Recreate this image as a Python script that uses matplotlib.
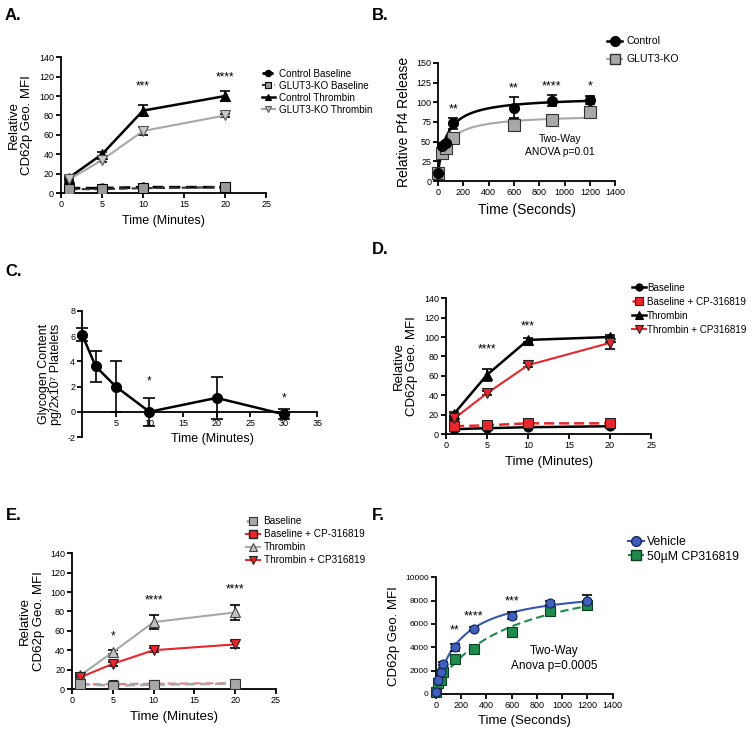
import matplotlib
matplotlib.use("Agg")
import matplotlib.pyplot as plt
from matplotlib.lines import Line2D
import numpy as np

plt.rcParams['font.family'] = ['Liberation Sans', 'DejaVu Sans']
plt.rcParams['axes.unicode_minus'] = False

RED = '#e8262b'
GRAY = '#a8a8a8'
BLUE = '#3556b0'
GREEN = '#1e8a4c'

# ---- panel A
a_time = [1, 5, 10, 20]
a_ctrl_base = [5, 5, 6, 6]
a_ko_base = [4, 4, 5, 6]
a_ctrl_thr = [16, 40, 85, 100]
a_ctrl_thr_err = [2, 2, 6, 5]
a_ko_thr = [14, 34, 64, 80]
a_ko_thr_err = [2, 2, 4, 2]
a_star_x = [10, 20]
a_star_y = [104, 113]
a_star_txt = ['***', '****']

# ---- panel B
b_time = [0, 30, 60, 120, 600, 900, 1200]
b_ctrl = [10, 45, 48, 73, 93, 102, 103]
b_ctrl_err = [3, 3, 3, 7, 13, 7, 5]
b_ko = [10, 36, 42, 54, 71, 77, 87]
b_ko_err = [3, 3, 3, 3, 8, 3, 5]
b_star_x = [120, 600, 900, 1200]
b_star_y = [83, 110, 112, 112]
b_star_txt = ['**', '**', '****', '*']

# ---- panel C
c_time = [0, 2, 5, 10, 20, 30]
c_glyc = [6.1, 3.6, 2.0, 0.0, 1.1, -0.2]
c_err = [0.5, 1.25, 2.05, 1.1, 1.65, 0.4]
c_star_x = [10, 30]
c_star_y = [1.9, 0.6]

# ---- panel D
d_time = [1, 5, 10, 20]
d_base = [5, 6, 7, 8]
d_base_cp = [8, 9, 11, 11]
d_thr = [21, 61, 97, 100]
d_thr_err = [2, 6, 2, 2]
d_thr_cp = [16, 42, 71, 94]
d_thr_cp_err = [2, 2, 2, 6]
d_star_x = [5, 10]
d_star_y = [81, 105]
d_star_txt = ['****', '***']

# ---- panel E
e_time = [1, 5, 10, 20]
e_base = [5, 3.5, 4.5, 5.5]
e_base_cp = [5, 5, 5.5, 6]
e_thr = [14, 38, 69, 79]
e_thr_err = [2, 2, 7, 8]
e_thr_cp = [12, 26, 40, 46]
e_thr_cp_err = [2, 2, 2, 4]
e_star_x = [5, 10, 20]
e_star_y = [48, 85, 96]
e_star_txt = ['*', '****', '****']

# ---- panel F
f_time = [0, 20, 40, 60, 150, 300, 600, 900, 1200]
f_veh = [200, 1200, 1900, 2600, 4000, 5600, 6700, 7800, 8000]
f_veh_err = [100, 150, 150, 150, 300, 150, 300, 150, 500]
f_cp = [200, 900, 1200, 1900, 3000, 3850, 5300, 7100, 7600]
f_cp_err = [100, 100, 100, 100, 150, 150, 150, 150, 200]
f_star_x = [150, 300, 600]
f_star_y = [4900, 6100, 7400]
f_star_txt = ['**', '****', '***']


def fit_curve(x, y, kind):
    # least-squares fit, grid search on the rate / half-max constant
    x = np.asarray(x, float)
    y = np.asarray(y, float)
    best = None
    for k in np.logspace(-4, 3, 800):
        if kind == 'exp':
            g = 1 - np.exp(-k * x)
        else:
            g = x / (k + x)
        A = np.column_stack([np.ones_like(x), g])
        coef, *_ = np.linalg.lstsq(A, y, rcond=None)
        sse = np.sum((A @ coef - y) ** 2)
        if best is None or sse < best[0]:
            best = (sse, k, coef)
    _, k, coef = best
    if kind == 'exp':
        return lambda t: coef[0] + coef[1] * (1 - np.exp(-k * t))
    return lambda t: coef[0] + coef[1] * t / (k + t)


def style(ax):
    for s in ['top', 'right']:
        ax.spines[s].set_visible(False)
    for s in ['left', 'bottom']:
        ax.spines[s].set_linewidth(1.3)
    ax.tick_params(direction='out', length=3.5, width=1.3, labelsize=6.5, pad=1.5)


def series(ax, x, y, err, ls, color, marker, mfc, mec, ms, label, lw=1.5, z=3):
    if err is not None:
        ax.errorbar(x, y, yerr=err, fmt='none', ecolor='black', elinewidth=1.2,
                    capsize=3.5, capthick=1.2, zorder=2)
    ln, = ax.plot(x, y, linestyle=ls, color=color, lw=lw, marker=marker, mfc=mfc,
                  mec=mec, mew=0.8, ms=ms, label=label, zorder=z)
    return ln


def stars(ax, xs, ys, txts, size=8.5):
    for x, y, t in zip(xs, ys, txts):
        ax.text(x, y, t, ha='center', va='bottom', fontsize=size)


fig = plt.figure(figsize=(7.54, 7.34), dpi=100)

# ================= A
ax = fig.add_axes([0.0809, 0.737, 0.272, 0.185])
style(ax)
h = []
h.append(series(ax, a_time, a_ctrl_base, None, (0, (4, 2)), 'black', 'o', 'black', 'black', 6.5, 'Control Baseline', lw=2))
h.append(series(ax, a_time, a_ko_base, None, (0, (4, 2)), '#333333', 's', '#9a9a9a', 'black', 7, 'GLUT3-KO Baseline', lw=1.5))
h.append(series(ax, a_time, a_ctrl_thr, a_ctrl_thr_err, '-', 'black', '^', 'black', 'black', 6.5, 'Control Thrombin', lw=1.8))
h.append(series(ax, a_time, a_ko_thr, a_ko_thr_err, '-', GRAY, 'v', '#c8c8c8', '#555555', 7, 'GLUT3-KO Thrombin', lw=1.5))
stars(ax, a_star_x, a_star_y, a_star_txt)
ax.set_xlim(0, 25)
ax.set_ylim(0, 140)
ax.set_xticks(range(0, 26, 5))
ax.set_yticks(range(0, 141, 20))
ax.set_xlabel('Time (Minutes)', fontsize=9)
ax.set_ylabel('Relative\nCD62p Geo. MFI', fontsize=9.5)
fig.legend(handles=h, loc='upper left', bbox_to_anchor=(257 / 754, 1 - 64 / 734), frameon=False,
           fontsize=7.1, handlelength=1.3, handletextpad=0.4, labelspacing=0.2, borderpad=0,
           markerscale=0.7)

# ================= B
ax = fig.add_axes([0.581, 0.7534, 0.235, 0.161])
style(ax)
tt = np.linspace(0, 1200, 400)
fb1 = fit_curve(b_time, b_ctrl, 'hyp')
fb2 = fit_curve(b_time, b_ko, 'hyp')
ax.plot(tt, fb2(tt), color=GRAY, lw=1.5, zorder=1)
ax.plot(tt, fb1(tt), color='black', lw=1.8, zorder=1)
ax.errorbar(b_time, b_ko, yerr=b_ko_err, fmt='none', ecolor='black', elinewidth=1.2, capsize=3.5, capthick=1.2, zorder=2)
ax.errorbar(b_time, b_ctrl, yerr=b_ctrl_err, fmt='none', ecolor='black', elinewidth=1.2, capsize=3.5, capthick=1.2, zorder=2)
ax.plot(b_time, b_ko, 's', mfc='#a8a8a8', mec='#333333', mew=0.8, ms=8, zorder=3, clip_on=False)
ax.plot(b_time, b_ctrl, 'o', mfc='black', mec='black', ms=7, zorder=4, clip_on=False)
stars(ax, b_star_x, b_star_y, b_star_txt, size=9)
ax.text(0.69, 0.395, 'Two-Way\nANOVA p=0.01', transform=ax.transAxes, ha='center', va='top',
        fontsize=7.5, linespacing=1.3)
ax.set_xlim(0, 1400)
ax.set_ylim(0, 150)
ax.set_xticks(range(0, 1401, 200))
ax.set_yticks(range(0, 151, 25))
ax.set_xlabel('Time (Seconds)', fontsize=10)
ax.set_ylabel('Relative Pf4 Release', fontsize=10)
hb = [Line2D([], [], color='black', lw=1.8, marker='o', ms=7, mfc='black', mec='black'),
      Line2D([], [], color=GRAY, lw=1.5, marker='s', ms=7.5, mfc='#a8a8a8', mec='#333333')]
fig.legend(handles=hb, labels=['Control', 'GLUT3-KO'], loc='upper left',
           bbox_to_anchor=(602 / 754, 1 - 31 / 734), frameon=False, fontsize=7.6,
           handlelength=1.4, handletextpad=0.4, labelspacing=0.75, borderpad=0)

# ================= C
ax = fig.add_axes([0.109, 0.4046, 0.312, 0.172])
style(ax)
ax.spines['bottom'].set_position(('data', 0))
ax.errorbar(c_time, c_glyc, yerr=c_err, fmt='-o', color='black', lw=1.8, ms=7,
            ecolor='black', elinewidth=1.2, capsize=4, capthick=1.2, clip_on=False, zorder=3)
stars(ax, c_star_x, c_star_y, ['*', '*'])
ax.set_xlim(0, 35)
ax.set_ylim(-2, 8)
ax.set_xticks(range(5, 36, 5))
ax.set_yticks(range(-2, 9, 2))
ax.set_xlabel('Time (Minutes)', fontsize=9)
ax.xaxis.set_label_coords(0.553, 0.035)
ax.set_ylabel('Glycogen Content\npg/2x10⁷ Platelets', fontsize=9, linespacing=1.0)

# ================= D
ax = fig.add_axes([0.5915, 0.4087, 0.272, 0.185])
style(ax)
h = []
h.append(series(ax, d_time, d_base, None, '-', 'black', 'o', 'black', 'black', 6.5, 'Baseline', lw=1.8))
h.append(series(ax, d_time, d_base_cp, None, (0, (4, 2)), RED, 's', RED, '#222222', 6.5, 'Baseline + CP-316819', lw=1.8))
h.append(series(ax, d_time, d_thr, d_thr_err, '-', 'black', '^', 'black', 'black', 6.5, 'Thrombin', lw=1.8))
h.append(series(ax, d_time, d_thr_cp, d_thr_cp_err, '-', RED, 'v', RED, '#222222', 7, 'Thrombin + CP316819', lw=1.5))
stars(ax, d_star_x, d_star_y, d_star_txt)
ax.set_xlim(0, 25)
ax.set_ylim(0, 140)
ax.set_xticks(range(0, 26, 5))
ax.set_yticks(range(0, 141, 20))
ax.set_xlabel('Time (Minutes)', fontsize=9.5)
ax.set_ylabel('Relative\nCD62p Geo. MFI', fontsize=9.5)
fig.legend(handles=h, loc='upper left', bbox_to_anchor=(627 / 754, 1 - 278 / 734), frameon=False,
           fontsize=7.1, handlelength=1.4, handletextpad=0.15, labelspacing=0.4, borderpad=0,
           markerscale=0.8)

# ================= E
ax = fig.add_axes([0.0955, 0.0613, 0.2706, 0.185])
style(ax)
h = []
h.append(series(ax, e_time, e_base, None, (0, (4, 2)), GRAY, 's', '#a8a8a8', '#333333', 7, 'Baseline', lw=1.8, z=4))
h.append(series(ax, e_time, e_base_cp, None, (0, (4, 2)), '#ee7b7b', 's', RED, '#222222', 6, 'Baseline + CP-316819', lw=1.5, z=3))
h.append(series(ax, e_time, e_thr, e_thr_err, '-', GRAY, '^', '#c0c0c0', '#444444', 7, 'Thrombin', lw=1.5))
h.append(series(ax, e_time, e_thr_cp, e_thr_cp_err, '-', RED, 'v', RED, '#222222', 7, 'Thrombin + CP316819', lw=1.5))
stars(ax, e_star_x, e_star_y, e_star_txt)
ax.set_xlim(0, 25)
ax.set_ylim(0, 140)
ax.set_xticks(range(0, 26, 5))
ax.set_yticks(range(0, 141, 20))
ax.set_xlabel('Time (Minutes)', fontsize=9.5)
ax.set_ylabel('Relative\nCD62p Geo. MFI', fontsize=9.5)
he = [h[0],
      Line2D([], [], color=RED, lw=1.5, marker='s', ms=6.5, mfc=RED, mec='#222222'),
      h[2], h[3]]
fig.legend(handles=he, labels=[l.get_label() for l in h], loc='upper left',
           bbox_to_anchor=(241 / 754, 1 - 511 / 734), frameon=False,
           fontsize=7.2, handlelength=1.4, handletextpad=0.35, labelspacing=0.3, borderpad=0,
           markerscale=0.8)

# ================= F
ax = fig.add_axes([0.578, 0.0545, 0.2347, 0.159])
style(ax)
ff1 = fit_curve(f_time, f_veh, 'hyp')
ff2 = fit_curve(f_time, f_cp, 'hyp')
ax.plot(tt, ff2(tt), color=GREEN, lw=1.5, ls=(0, (4, 2)), zorder=1)
ax.plot(tt, ff1(tt), color=BLUE, lw=1.5, zorder=1)
ax.errorbar(f_time, f_cp, yerr=f_cp_err, fmt='none', ecolor='black', elinewidth=1.2, capsize=3.5, capthick=1.2, zorder=2)
ax.errorbar(f_time, f_veh, yerr=f_veh_err, fmt='none', ecolor='black', elinewidth=1.2, capsize=3.5, capthick=1.2, zorder=2)
ax.plot(f_time, f_cp, 's', mfc=GREEN, mec='#0b3d20', mew=0.8, ms=6.5, zorder=3, clip_on=False)
ax.plot(f_time, f_veh, 'o', mfc='#3f5fbf', mec='#16245a', mew=0.8, ms=6.5, zorder=4, clip_on=False)
stars(ax, f_star_x, f_star_y, f_star_txt, size=9)
ax.text(0.67, 0.42, 'Two-Way\nAnova p=0.0005', transform=ax.transAxes, ha='center', va='top',
        fontsize=8.5, linespacing=1.3)
ax.set_xlim(0, 1400)
ax.set_ylim(0, 10000)
ax.set_xticks(range(0, 1401, 200))
ax.set_yticks(range(0, 10001, 2000))
ax.tick_params(axis='y', labelsize=6)
ax.set_xlabel('Time (Seconds)', fontsize=9.5)
ax.set_ylabel('CD62p Geo. MFI', fontsize=9.5)
hf = [Line2D([], [], color=BLUE, lw=1.5, marker='o', ms=7, mfc='#3f5fbf', mec='#16245a'),
      Line2D([], [], color=GREEN, lw=1.5, ls=(0, (4, 2)), marker='s', ms=6.5, mfc=GREEN, mec='#0b3d20')]
fig.legend(handles=hf, labels=['Vehicle', '50µM CP316819'], loc='upper left',
           bbox_to_anchor=(622 / 754, 1 - 530 / 734), frameon=False, fontsize=8.8,
           handlelength=1.3, handletextpad=0.25, labelspacing=0.2, borderpad=0)

# panel letters
for lab, x, y in [('A.', 5, 15), ('B.', 372, 15), ('C.', 5, 272),
                  ('D.', 372, 250), ('E.', 6, 515), ('F.', 372, 515)]:
    fig.text(x / 754, 1 - y / 734, lab, fontsize=12, fontweight='bold', va='center', ha='left')

fig.savefig('out.png', dpi=100)
